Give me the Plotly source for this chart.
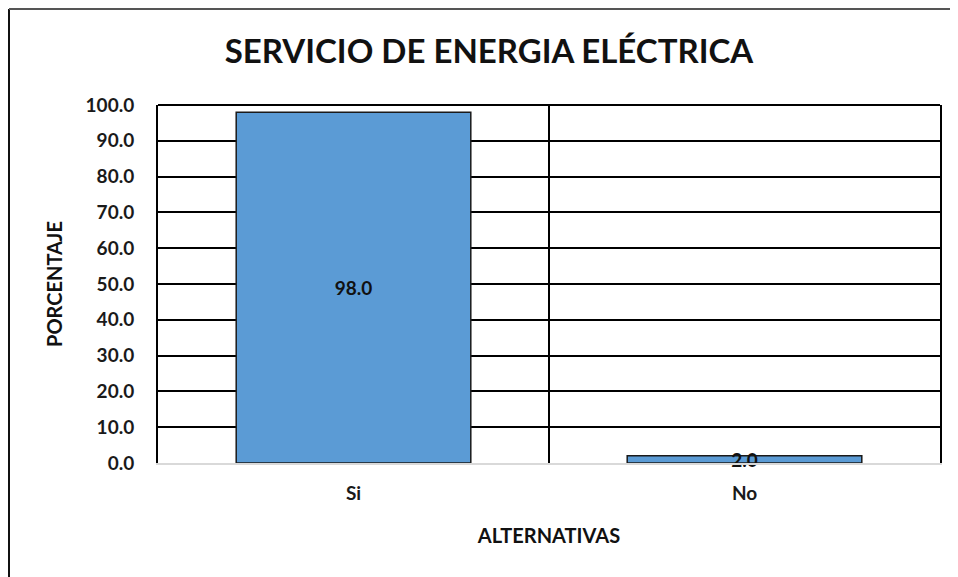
import plotly.graph_objects as go

categories = ["Si", "No"]
values = [98.0, 2.0]
value_labels = ["98.0", "2.0"]
y_ticks = [0, 10, 20, 30, 40, 50, 60, 70, 80, 90, 100]
y_tick_labels = ["0.0", "10.0", "20.0", "30.0", "40.0", "50.0", "60.0", "70.0", "80.0", "90.0", "100.0"]

FONT = "Lato, Carlito, Calibri, sans-serif"

# page is rendered with an 8px body margin, so the figure starts at (8, 8)
OFF = 8
W, H = 958 - OFF, 577 - OFF
L, R, T, B = 158 - OFF, 18, 105 - OFF, 114
pw, ph = W - L - R, H - T - B


def px_x(p):
    return (p - OFF - L) / pw


def px_y(p):
    return 1 - (p - OFF - T) / ph


fig = go.Figure()
fig.add_trace(go.Bar(
    x=categories, y=values,
    width=0.6,
    marker=dict(color="#5B9BD5", line=dict(color="#1a1a1a", width=1.5)),
    text=["<b>" + t + "</b>" for t in value_labels],
    textposition="inside", insidetextanchor="middle",
    constraintext="none", cliponaxis=False,
    textfont=dict(family=FONT, size=19, color="#111111"),
))

fig.update_layout(
    width=W, height=H,
    margin=dict(l=L, r=R, t=T, b=B),
    paper_bgcolor="white", plot_bgcolor="white",
    showlegend=False,
    font=dict(family=FONT, color="#222222"),
    title=dict(text="<b>SERVICIO DE ENERGIA ELÉCTRICA</b>",
               x=(489 - OFF) / W, xanchor="center",
               y=1 - (51 - OFF) / H, yanchor="middle",
               font=dict(family=FONT, size=33, color="#111111")),
    xaxis=dict(
        tickson="boundaries", showgrid=True, gridcolor="#000000", gridwidth=1.5,
        showline=True, linecolor="#d9d9d9", linewidth=2,
        ticks="", tickfont=dict(family=FONT, size=19, color="#1a1a1a"),
        ticklabelstandoff=12,
        tickprefix="<b>", ticksuffix="</b>",
        title=dict(text="<b>ALTERNATIVAS</b>", font=dict(family=FONT, size=20, color="#111111"), standoff=26),
    ),
    yaxis=dict(
        range=[0, 100], tickvals=y_ticks, ticktext=["<b>" + t + "</b>" for t in y_tick_labels],
        showgrid=True, gridcolor="#000000", gridwidth=1.5,
        showline=True, linecolor="#000000", linewidth=2, mirror=True,
        zeroline=False, ticks="", ticklabelstandoff=18,
        tickfont=dict(family=FONT, size=19, color="#1a1a1a"),
        title=dict(text="<b>PORCENTAJE</b>", font=dict(family=FONT, size=20, color="#111111"), standoff=18),
    ),
    bargap=0.4,
)

# plot-area top border
fig.add_shape(type="line", xref="paper", yref="paper", x0=0, x1=1, y0=1, y1=1,
              line=dict(color="#000000", width=2), layer="above")
# outer chart frame (left and top)
fx, fy = px_x(9), px_y(9)
fig.add_shape(type="line", xref="paper", yref="paper", x0=fx, x1=fx, y0=fy, y1=px_y(600),
              line=dict(color="#111111", width=2))
fig.add_shape(type="line", xref="paper", yref="paper", x0=fx, x1=px_x(1000), y0=fy, y1=fy,
              line=dict(color="#555555", width=2))

fig.write_html("out.html")
